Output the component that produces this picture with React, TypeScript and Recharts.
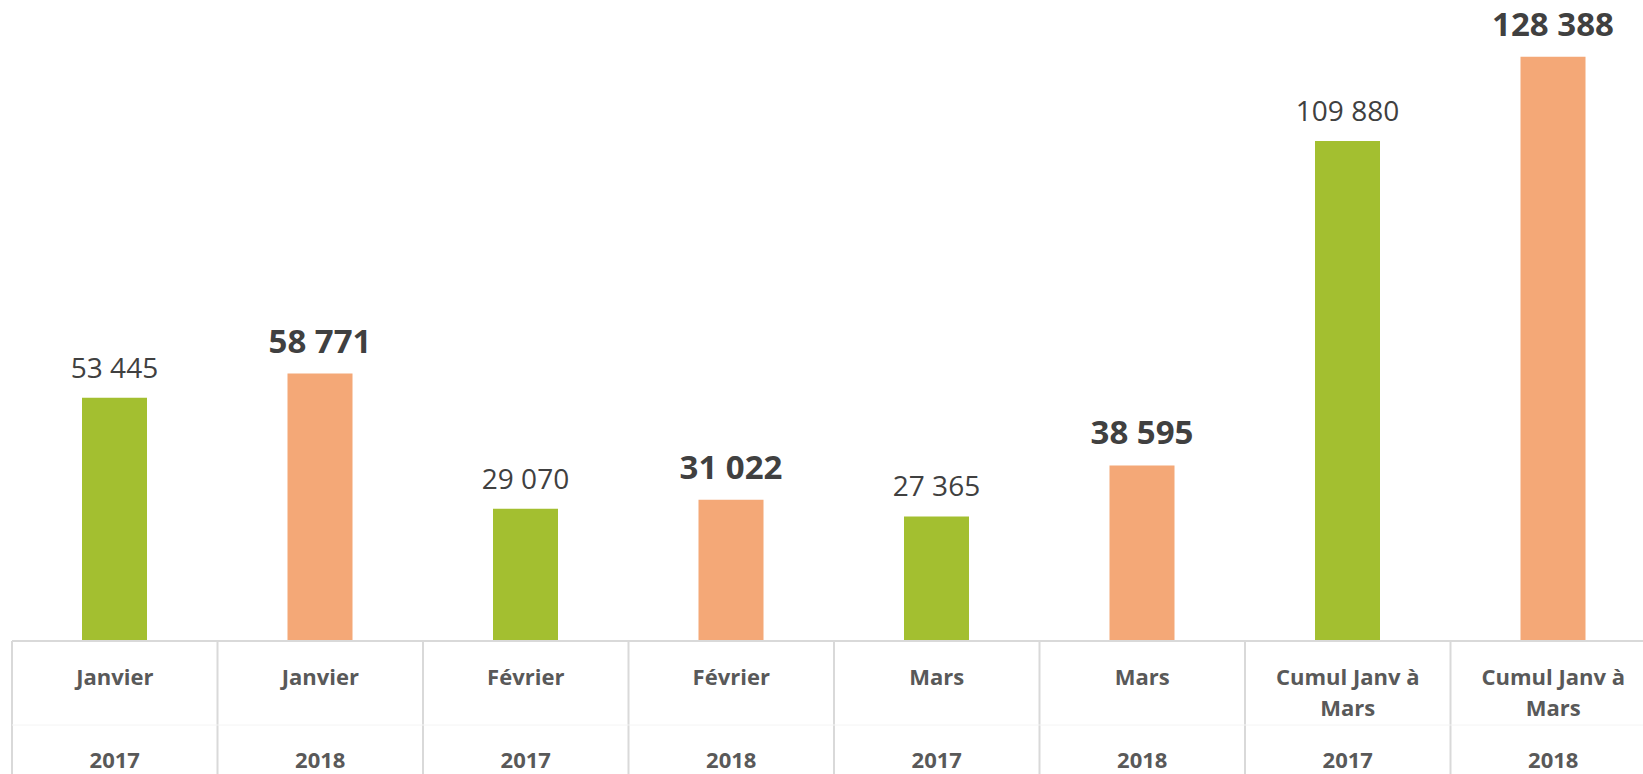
import React from 'react';
import { BarChart, Bar, XAxis, YAxis, Cell, LabelList } from 'recharts';

const periods = ['Janvier', 'Janvier', 'Février', 'Février', 'Mars', 'Mars', 'Cumul Janv à|Mars', 'Cumul Janv à|Mars'];
const years = ['2017', '2018', '2017', '2018', '2017', '2018', '2017', '2018'];
const values = [53445, 58771, 29070, 31022, 27365, 38595, 109880, 128388];

const GREEN = '#A3BF30';
const ORANGE = '#F4A877';
const GRID = '#D9D9D9';

const data = values.map((v, i) => ({
  key: `${periods[i]} ${years[i]}`,
  period: periods[i],
  year: years[i],
  value: v,
}));

const fmt = (n: number) => String(n).replace(/\B(?=(\d{3})+(?!\d))/g, ' ');

function CategoryTick(props: any) {
  const { x, y, payload, index, width } = props;
  const idx = payload?.index ?? index ?? 0;
  const row = data[idx];
  const band = width / data.length;
  const left = x - band / 2;
  const right = x + band / 2;
  const lines = row.period.split('|');
  return (
    <g>
      {idx === 0 && <line x1={left} x2={left} y1={y} y2={y + 140} stroke={GRID} strokeWidth={2} />}
      <line x1={right} x2={right} y1={y} y2={y + 140} stroke={GRID} strokeWidth={2} />
      <line x1={left} x2={right} y1={y + 84} y2={y + 84} stroke="#F4F4F4" strokeWidth={1} />
      {lines.map((t: string, i: number) => (
        <text
          key={i}
          x={x}
          y={y + 44 + i * 31}
          textAnchor="middle"
          fill="#595959"
          fontSize={22}
          fontWeight="bold"
          fontFamily="'Open Sans', sans-serif"
        >
          {t}
        </text>
      ))}
      <text
        x={x}
        y={y + 127}
        textAnchor="middle"
        fill="#595959"
        fontSize={22}
        fontWeight="bold"
        fontFamily="'Open Sans', sans-serif"
      >
        {row.year}
      </text>
    </g>
  );
}

function ValueLabel(props: any) {
  const { x, y, width, value, index } = props;
  const bold = years[index] === '2018';
  return (
    <text
      x={x + width / 2}
      y={y - (bold ? 21 : 20)}
      textAnchor="middle"
      fill="#404040"
      fontSize={bold ? 33 : 28}
      fontWeight={bold ? 'bold' : 'normal'}
      fontFamily="'Open Sans', sans-serif"
    >
      {fmt(value)}
    </text>
  );
}

export default function App() {
  return (
    <div style={{ position: 'absolute', left: 0, top: 0, width: 1643, height: 774, overflow: 'hidden', background: '#fff' }}>
      <BarChart
        width={1660}
        height={774}
        data={data}
        margin={{ top: 4, right: 4, bottom: 0, left: 12 }}
      >
        <XAxis
          dataKey="key"
          height={133}
          interval={0}
          tickSize={0}
          tickMargin={0}
          tickLine={false}
          axisLine={{ stroke: GRID, strokeWidth: 2 }}
          tick={<CategoryTick />}
        />
        <YAxis hide domain={[0, 140000]} />
        <Bar dataKey="value" barSize={65} isAnimationActive={false}>
          {data.map((d, i) => (
            <Cell key={i} fill={d.year === '2017' ? GREEN : ORANGE} />
          ))}
          <LabelList dataKey="value" content={<ValueLabel />} />
        </Bar>
      </BarChart>
    </div>
  );
}
